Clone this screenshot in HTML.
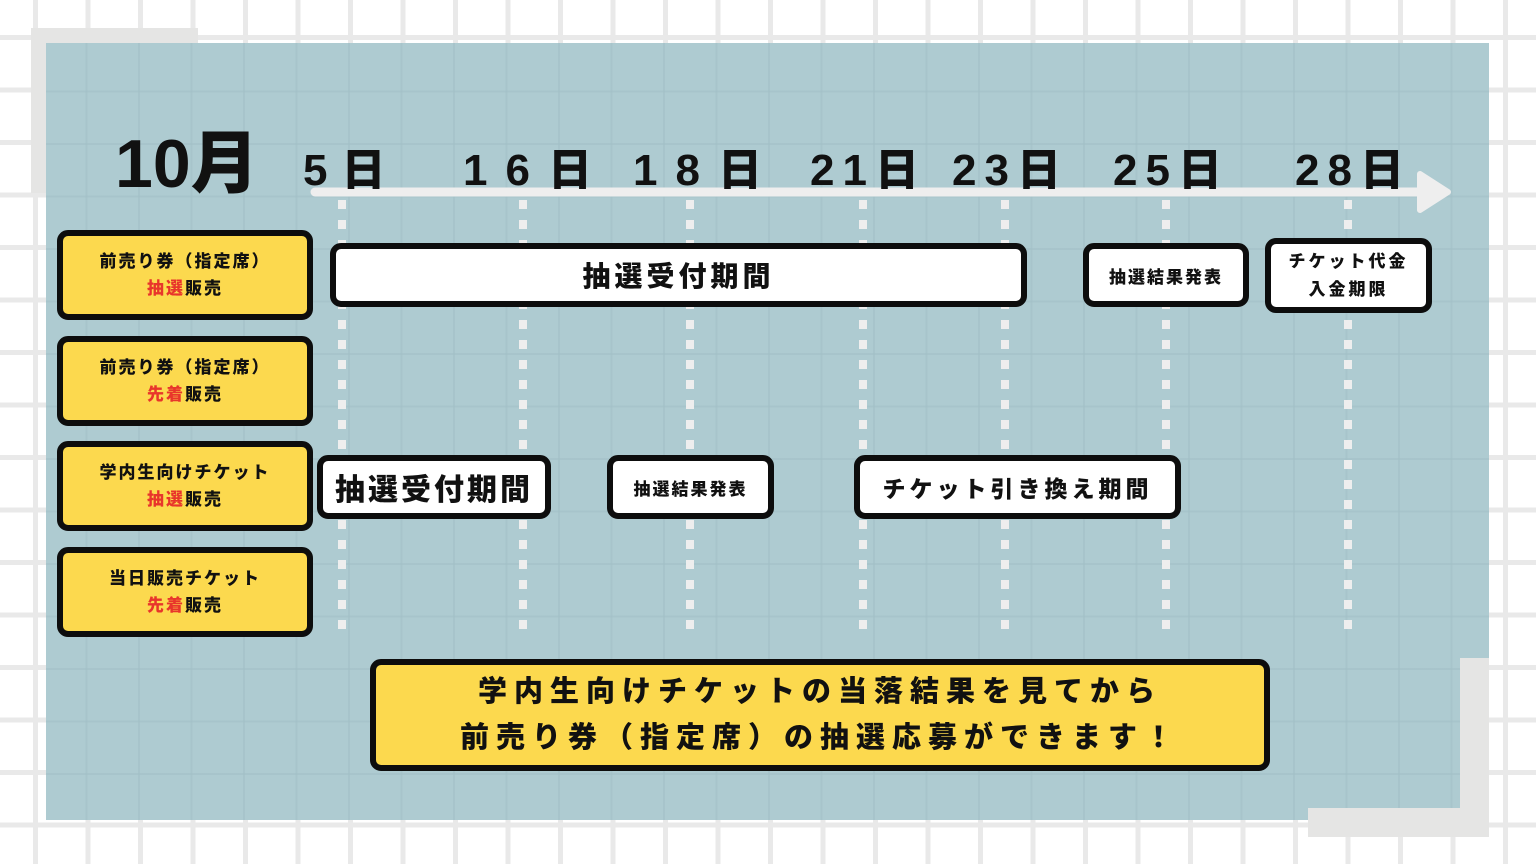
<!DOCTYPE html>
<html><head><meta charset="utf-8"><style>
body{margin:0;width:1536px;height:864px;overflow:hidden;position:relative;
background-color:#fff;
background-image:linear-gradient(90deg,#e9e9e9 5px,transparent 5px),linear-gradient(0deg,#e9e9e9 5px,transparent 5px);
background-size:52.5px 52.5px;background-position:33px 40px;
font-family:"Liberation Sans","Noto Sans CJK JP",sans-serif;}
.a{position:absolute;}
.panel{left:46px;top:43px;width:1443px;height:777px;background-color:#aecbd1;
background-image:linear-gradient(90deg,rgba(160,190,197,.5) 2px,transparent 2px),linear-gradient(0deg,rgba(160,190,197,.5) 2px,transparent 2px);
background-size:52.5px 52.5px;background-position:-13px -3px;}
.g{background:#e5e5e4;}
.d{font-weight:900;font-size:44px;color:#111;top:134px;letter-spacing:8px;white-space:nowrap;}
.box{box-sizing:border-box;border:6px solid #0d0d0d;border-radius:11px;display:flex;align-items:center;justify-content:center;text-align:center;font-weight:900;color:#111;white-space:nowrap;}
.y{background:#fcd94e;font-size:17px;line-height:27px;letter-spacing:2px;}
.w{background:#fff;}
.r{color:#e8352b;}
</style></head><body>
<div class="a g" style="left:31px;top:28px;width:167px;height:30px"></div>
<div class="a g" style="left:31px;top:28px;width:27px;height:165px"></div>
<div class="a panel"></div>
<div class="a g" style="left:1308px;top:808px;width:181px;height:29px"></div>
<div class="a g" style="left:1460px;top:658px;width:29px;height:179px"></div>

<svg class="a" style="left:0;top:0" width="1536" height="864">
<line x1="315" y1="192" x2="1432" y2="192" stroke="#eeeeee" stroke-width="9" stroke-linecap="round"/>
<path d="M1420 174 L1448 192 L1420 210 Z" fill="#eeeeee" stroke="#eeeeee" stroke-width="6" stroke-linejoin="round"/>
<g stroke="#eeeeee" stroke-width="8" stroke-dasharray="9 11">
<line x1="342" y1="200" x2="342" y2="640"/><line x1="523" y1="200" x2="523" y2="640"/>
<line x1="690" y1="200" x2="690" y2="640"/><line x1="863" y1="200" x2="863" y2="640"/>
<line x1="1005" y1="200" x2="1005" y2="640"/><line x1="1166" y1="200" x2="1166" y2="640"/>
<line x1="1348" y1="200" x2="1348" y2="640"/></g>
</svg>

<div class="a" style="left:115px;top:108px;font-size:68px;font-weight:900;color:#111;letter-spacing:0px">10月</div>
<div class="a d" style="left:303px;letter-spacing:14px">5日</div>
<div class="a d" style="left:463px;letter-spacing:18px">16日</div>
<div class="a d" style="left:633px;letter-spacing:18px">18日</div>
<div class="a d" style="left:810px">21日</div>
<div class="a d" style="left:952px">23日</div>
<div class="a d" style="left:1113px">25日</div>
<div class="a d" style="left:1295px">28日</div>

<div class="a box y" style="left:57px;top:230px;width:256px;height:90px"><div>前売り券（指定席）<br><span class="r">抽選</span>販売</div></div>
<div class="a box y" style="left:57px;top:336px;width:256px;height:90px"><div>前売り券（指定席）<br><span class="r">先着</span>販売</div></div>
<div class="a box y" style="left:57px;top:441px;width:256px;height:90px"><div>学内生向けチケット<br><span class="r">抽選</span>販売</div></div>
<div class="a box y" style="left:57px;top:547px;width:256px;height:90px"><div>当日販売チケット<br><span class="r">先着</span>販売</div></div>

<div class="a box w" style="left:330px;top:243px;width:697px;height:64px;font-size:28px;letter-spacing:4px">抽選受付期間</div>
<div class="a box w" style="left:1083px;top:243px;width:166px;height:64px;font-size:17px;letter-spacing:2px">抽選結果発表</div>
<div class="a box w" style="left:1265px;top:238px;width:167px;height:75px;font-size:17px;line-height:28px;letter-spacing:3px"><div>チケット代金<br>入金期限</div></div>

<div class="a box w" style="left:317px;top:455px;width:234px;height:64px;font-size:30px;letter-spacing:3px">抽選受付期間</div>
<div class="a box w" style="left:607px;top:455px;width:167px;height:64px;font-size:17px;letter-spacing:2px">抽選結果発表</div>
<div class="a box w" style="left:854px;top:455px;width:327px;height:64px;font-size:23px;letter-spacing:4px">チケット引き換え期間</div>

<div class="a box y" style="left:370px;top:659px;width:900px;height:112px;font-size:29px;line-height:46px;letter-spacing:7px"><div>学内生向けチケットの当落結果を見てから<br>前売り券（指定席）の抽選応募ができます！</div></div>
</body></html>
